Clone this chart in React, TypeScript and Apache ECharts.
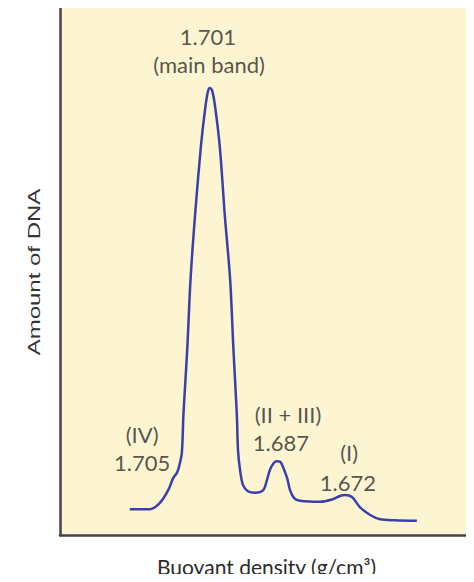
import React, { useEffect, useRef } from "react";
import * as echarts from "echarts";

// Position along the gradient (arbitrary units, left → right) and amount of DNA (arbitrary units)
const positions = [
  16.9, 21.8, 24.2, 26.2, 27.4, 28.3, 28.8, 29.5, 29.9, 30.8, 31.6, 32.7, 34.1, 35.1, 35.8, 36.3,
  36.8, 37.5, 38.7, 39.9, 41.2, 42.0, 42.8, 43.1, 43.6, 44.3, 45.5, 47.2, 49.2, 50.1, 50.8, 51.8,
  52.5, 53.3, 53.8, 55.0, 55.7, 56.7, 58.1, 63.0, 66.1, 67.8, 69.0, 70.7, 72.6, 75.1, 77.5, 81.1, 86.4,
];
const amounts = [
  4.9, 4.9, 6.1, 8.5, 10.8, 11.8, 12.9, 15.6, 23.1, 35.1, 48.4, 60.7, 73.6, 80.6, 84.1, 84.8,
  84.4, 81.6, 73.6, 60.7, 48.4, 35.1, 23.1, 16.1, 12.3, 9.5, 8.3, 8.0, 8.5, 10.4, 12.3, 13.7,
  14.0, 13.9, 13.3, 10.8, 8.5, 7.0, 6.5, 6.3, 6.8, 7.4, 7.6, 7.2, 5.3, 3.8, 3.0, 2.8, 2.7,
];

// Peak annotations (text lines and their anchor in data units)
const annotationTexts = ["1.701", "(main band)", "(IV)", "1.705", "(II + III)", "1.687", "(I)", "1.672"];
const annotationX = [35.8, 36.1, 19.9, 19.9, 55.2, 53.5, 70.0, 69.7];
const annotationY = [94.5, 89.2, 19.0, 13.7, 22.8, 17.5, 15.6, 10.0];

const xAxisTitle = "Buoyant density (g/cm³)";
const yAxisTitle = "Amount of DNA";

export default function App() {
  const ref = useRef<HTMLDivElement>(null);

  useEffect(() => {
    if (!ref.current) return;
    const chart = echarts.init(ref.current, null, { renderer: "svg" });
    const lineData = positions.map((p, i) => [p, amounts[i]]);
    const annData = annotationTexts.map((t, i) => ({ value: [annotationX[i], annotationY[i]], name: t }));

    chart.setOption({
      animation: false,
      backgroundColor: "#ffffff",
      grid: {
        left: 60,
        right: 1,
        top: 8,
        bottom: 47,
        outerBoundsMode: "none",
        containLabel: false,
        show: true,
        backgroundColor: "#fdf4d1",
        borderWidth: 0,
      },
      xAxis: {
        type: "value",
        min: 0,
        max: 100,
        axisLine: { show: true, onZero: false, lineStyle: { color: "#444", width: 2.5 } },
        axisTick: { show: false },
        axisLabel: { show: false },
        splitLine: { show: false },
        name: xAxisTitle,
        nameLocation: "middle",
        nameGap: 21,
        nameTextStyle: { fontFamily: "Lato", fontSize: 21, color: "#2b2b2b" },
      },
      yAxis: {
        type: "value",
        min: 0,
        max: 100,
        axisLine: { show: true, onZero: false, lineStyle: { color: "#444", width: 2.5 } },
        axisTick: { show: false },
        axisLabel: { show: false },
        splitLine: { show: false },
      },
      graphic: [
        {
          type: "text",
          x: 35,
          y: 272,
          rotation: Math.PI / 2,
          scaleX: 1.5,
          style: {
            text: yAxisTitle,
            font: '16px "Liberation Sans", Arial, sans-serif',
            fill: "#333",
            align: "center",
            verticalAlign: "middle",
          },
        },
      ],
      series: [
        {
          type: "line",
          data: lineData,
          smooth: 0.3,
          showSymbol: false,
          lineStyle: { color: "#3a3fae", width: 2.5 },
          z: 3,
        },
        {
          type: "scatter",
          data: annData,
          symbolSize: 1,
          itemStyle: { color: "rgba(0,0,0,0)" },
          label: {
            show: true,
            position: "inside",
            formatter: (p: any) => p.name,
            fontFamily: "Lato",
            fontSize: 22,
            color: "#2b2b2b",
            align: "center",
            verticalAlign: "middle",
          },
          z: 4,
        },
      ],
    });
    return () => chart.dispose();
  }, []);

  return <div ref={ref} style={{ width: 474, height: 582, margin: -8 }} />;
}
